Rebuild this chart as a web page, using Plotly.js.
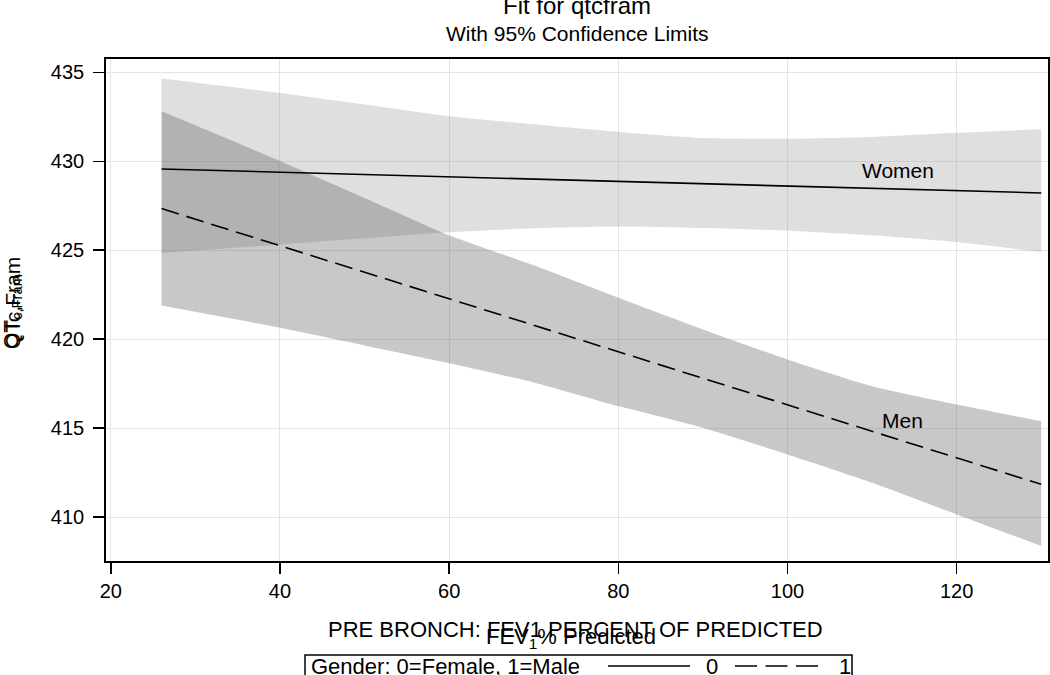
<!DOCTYPE html>
<html>
<head>
<meta charset="utf-8">
<script src="https://cdn.plot.ly/plotly-3.0.1.min.js"></script>
<style>
  html, body { margin: 0; padding: 0; background: #ffffff; }
  #chart { width: 1050px; height: 675px; }
</style>
</head>
<body>
<div id="chart"></div>
<script>
// FEV1 % predicted grid
const fevX = [26, 40, 50, 60, 70, 80, 90, 100, 110, 120, 130];

// Women (Gender 0)
const womenFit   = [429.57, 429.39, 429.26, 429.13, 429.00, 428.87, 428.74, 428.61, 428.48, 428.35, 428.22];
const womenUpper = [434.65, 433.84, 433.19, 432.53, 432.08, 431.65, 431.31, 431.27, 431.37, 431.60, 431.80];
const womenLower = [424.85, 425.32, 425.67, 426.01, 426.24, 426.34, 426.25, 426.10, 425.84, 425.46, 424.90];

// Men (Gender 1)
const menFit   = [427.34, 425.25, 423.76, 422.27, 420.78, 419.29, 417.80, 416.31, 414.82, 413.33, 411.84];
const menUpper = [432.81, 430.02, 427.94, 425.84, 424.15, 422.33, 420.55, 418.86, 417.36, 416.33, 415.39];
const menLower = [421.89, 420.64, 419.65, 418.65, 417.57, 416.24, 415.02, 413.52, 411.93, 410.15, 408.37];

// Axis ticks
const xTicks = [20, 40, 60, 80, 100, 120];
const yTicks = [410, 415, 420, 425, 430, 435];

// Curve labels
const curveLabels = ["Women", "Men"];
const curveLabelX = [113.1, 113.6];
const curveLabelY = [429.5, 415.45];

const FONT = '"Liberation Sans", Arial, "DejaVu Sans", sans-serif';

const edge = { width: 0, shape: 'spline', smoothing: 0.6 };
const traces = [
  { x: fevX, y: womenLower, type: 'scatter', mode: 'lines', line: edge,
    hoverinfo: 'skip', showlegend: false },
  { x: fevX, y: womenUpper, type: 'scatter', mode: 'lines', line: edge,
    fill: 'tonexty', fillcolor: 'rgba(150,150,150,0.3)', hoverinfo: 'skip', showlegend: false },
  { x: fevX, y: menLower, type: 'scatter', mode: 'lines', line: edge,
    hoverinfo: 'skip', showlegend: false },
  { x: fevX, y: menUpper, type: 'scatter', mode: 'lines', line: edge,
    fill: 'tonexty', fillcolor: 'rgba(90,90,90,0.333)', hoverinfo: 'skip', showlegend: false },
  { x: fevX, y: womenFit, type: 'scatter', mode: 'lines', name: '0',
    line: { color: '#000000', width: 1.6, dash: 'solid' }, showlegend: false },
  { x: fevX, y: menFit, type: 'scatter', mode: 'lines', name: '1',
    line: { color: '#000000', width: 1.6, dash: '18px,8px' }, showlegend: false }
];

// plot area in pixels: left 106, right 1048, top 59, bottom 561
const L = 106, R = 1048, T = 59, B = 561;
const px = v => (v - L) / (R - L);
const py = v => (B - v) / (B - T);

function txt(text, x, y, size, extra) {
  return Object.assign({ text: text, xref: 'paper', yref: 'paper', x: px(x), y: py(y),
    xanchor: 'center', yanchor: 'middle', showarrow: false,
    font: { family: FONT, size: size, color: '#000' } }, extra || {});
}

const annotations = [
  txt('Fit for qtcfram', 577, 5, 24),
  txt('With 95% Confidence Limits', 577, 33, 21),
  txt('PRE BRONCH: FEV1 PERCENT OF PREDICTED', 575, 630, 22),
  txt('FEV<sub>1</sub>% Predicted', 571, 638, 22),
  txt('QT<sub>c,Fram</sub>', 12, 312, 21, { textangle: -90 }),
  txt('QTc,Fram', 12, 303, 21, { textangle: -90 }),
  txt('Gender: 0=Female, 1=Male', 309, 666, 22, { xanchor: 'left' }),
  txt('0', 712, 666, 22),
  txt('1', 845, 666, 22)
];
curveLabels.forEach((t, i) => annotations.push({
  text: t, x: curveLabelX[i], y: curveLabelY[i], xref: 'x', yref: 'y',
  xanchor: 'center', yanchor: 'middle', showarrow: false, font: { family: FONT, size: 21, color: '#000' }
}));

const shapes = [
  { type: 'rect', xref: 'paper', yref: 'paper', x0: px(305), x1: px(852), y0: py(655), y1: py(700),
    line: { color: '#000', width: 1.5 }, fillcolor: 'rgba(0,0,0,0)' },
  { type: 'line', xref: 'paper', yref: 'paper', x0: px(608), x1: px(690), y0: py(666), y1: py(666),
    line: { color: '#000', width: 1.6 } },
  { type: 'line', xref: 'paper', yref: 'paper', x0: px(735), x1: px(818), y0: py(666), y1: py(666),
    line: { color: '#000', width: 1.6, dash: '22px,8.5px' } }
];

const axisCommon = {
  ticks: 'outside', ticklen: 11, tickwidth: 1.5, tickcolor: '#000',
  showline: true, linecolor: '#000', linewidth: 1.8, mirror: true,
  showgrid: true, gridcolor: '#e4e4e4', gridwidth: 1, zeroline: false,
  tickfont: { family: FONT, size: 20, color: '#000' }
};

const layout = {
  width: 1050, height: 675,
  margin: { l: L, r: 1050 - R, t: T, b: 675 - B, autoexpand: false },
  paper_bgcolor: '#ffffff', plot_bgcolor: '#ffffff',
  showlegend: false,
  font: { family: FONT, color: '#000' },
  xaxis: Object.assign({}, axisCommon, { range: [19.43, 130.8], tickmode: 'array', tickvals: xTicks,
    ticktext: xTicks.map(String) }),
  yaxis: Object.assign({}, axisCommon, { range: [407.53, 435.75], tickmode: 'array', tickvals: yTicks,
    ticktext: yTicks.map(String), ticklabelstandoff: 5 }),
  annotations: annotations,
  shapes: shapes
};

Plotly.newPlot('chart', traces, layout, { staticPlot: true, displayModeBar: false });
</script>
</body>
</html>
